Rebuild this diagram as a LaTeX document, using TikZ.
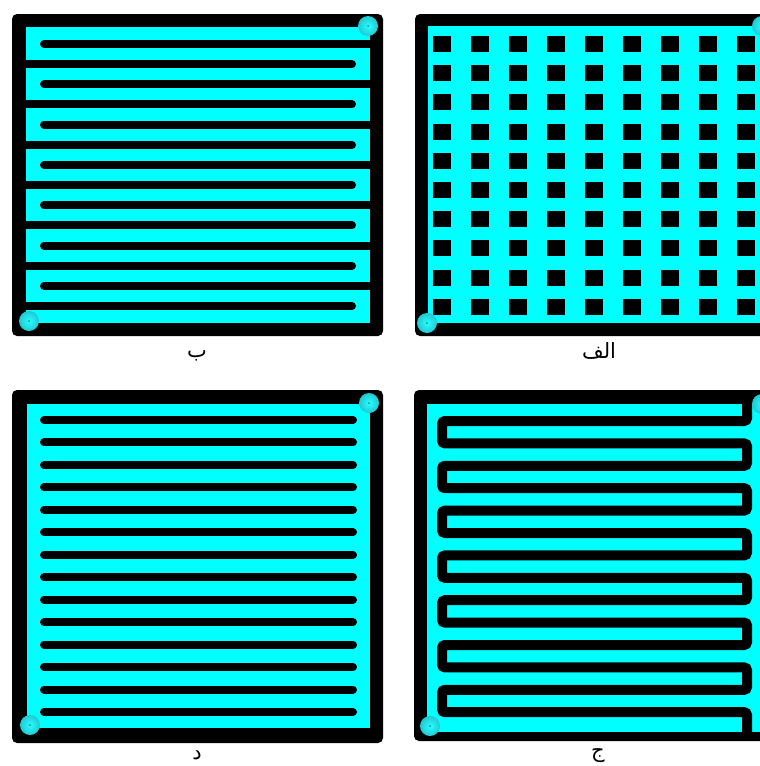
\documentclass[tikz,border=0pt]{standalone}
\usepackage{fontspec}
\newfontfamily\arabicfont[Script=Arabic]{DejaVu Sans}
\TeXXeTstate=1
\definecolor{ccyan}{HTML}{00FFFF}
\definecolor{cink}{HTML}{000000}
\definecolor{cport}{HTML}{22C8D2}

\begin{document}
\begin{tikzpicture}[x=1pt, y=-1pt,
  chip/.style={fill=cink, rounded corners=5pt},
  bed/.style={fill=ccyan},
  slot/.style={cink, line width=8pt, line cap=round},
  snake/.style={cink, line width=10pt, rounded corners=3pt},
  panelname/.style={font=\arabicfont\fontsize{21}{25}\selectfont, anchor=base, inner sep=0pt}]
\useasboundingbox (0,0) rectangle (760,766);
\clip (0,0) rectangle (760,766);
%% ------------------------------------------------------------------ (b)
\fill[chip] (12,14) rectangle (383,336);
\fill[bed] (26,27) rectangle (370,323);
% fingers, fixed alternately to the right and to the left wall
\foreach \k in {0,2,...,12} {
  \draw[slot] (44,{44+20.15*\k}) -- (372,{44+20.15*\k});
  \draw[slot] (24,{44+20.15*(\k+1)}) -- (352,{44+20.15*(\k+1)});
}
\node[panelname] (nameB) at (197,357) {\beginR ب\endR};
%% ------------------------------------------------------------------ (alef)
\fill[chip] (415,14) rectangle (777,336);
\fill[bed] (428,26) rectangle (764,323);
% square pillars, 9 x 10
\foreach \i in {0,...,8}
  \foreach \j in {0,...,9}
    \fill[cink] ({433+38*\i},{36+29.2*\j}) rectangle +(18,16);
\node[panelname] (nameAlef) at (599,358) {\beginR الف\endR};
%% ------------------------------------------------------------------ (dal)
\fill[chip] (12,390) rectangle (383,743);
\fill[bed] (27,404) rectangle (370,728);
% free slots, not touching the walls
\foreach \k in {0,...,13}
  \draw[slot] (44,{420+22.46*\k}) -- (353,{420+22.46*\k});
\node[panelname] (nameDal) at (197,759) {\beginR د\endR};
%% ------------------------------------------------------------------ (jim)
\fill[chip] (414,390) rectangle (777,741);
\fill[bed] (427,404) rectangle (764,732);
% one meandering wall from the top to the bottom
\draw[snake] (747,398) -- (747,421)
  \foreach \k in {0,2,...,12} {
    -- (442,{421+22.4*\k}) -- (442,{421+22.4*(\k+1)})
    -- (747,{421+22.4*(\k+1)}) -- (747,{421+22.4*(\k+2)})
  } -- (747,738);
\node[panelname] (nameJim) at (598,757) {\beginR ج\endR};
%% ------------------------------------------------------------------ ports
\foreach \p in {(368,26),(29,321),(762,26),(427,323),(369,403),(30,725),(762,404),(430,726)} {
  \shade[inner color=ccyan!85!white, outer color=cport] \p circle (10pt);
  \fill[cport!70!black] \p circle (1pt);
}
\end{tikzpicture}
\end{document}
